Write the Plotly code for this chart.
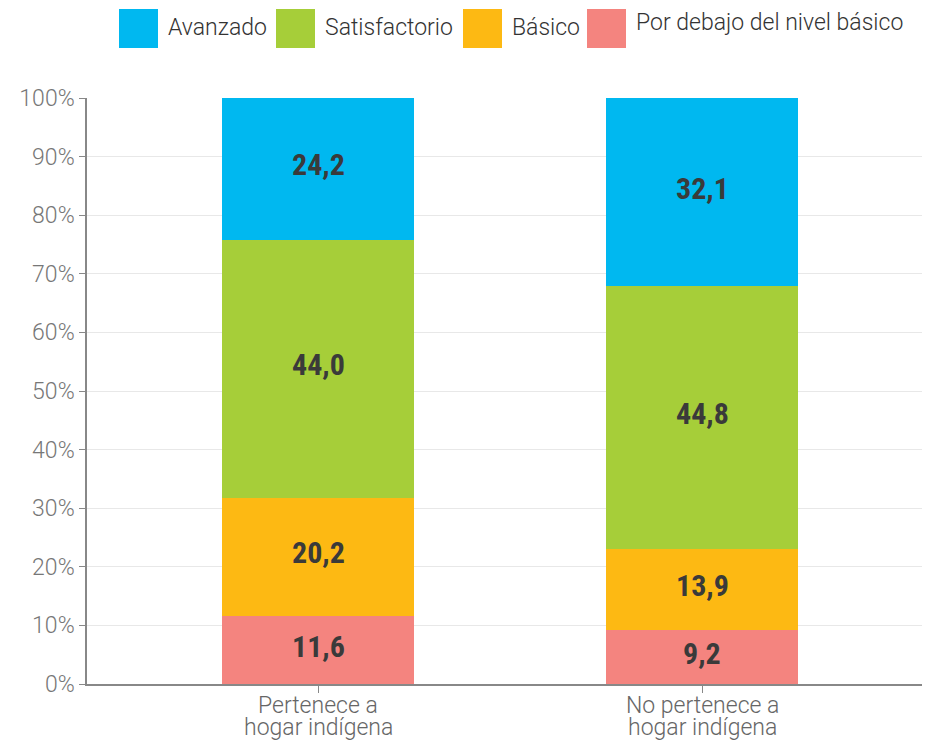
import plotly.graph_objects as go

cat_line1 = ["Pertenece a", "No pertenece a"]
cat_line2 = ["hogar indígena", "hogar indígena"]
categories = [a + " " + b for a, b in zip(cat_line1, cat_line2)]
series_names = ["Por debajo del nivel básico", "Básico", "Satisfactorio", "Avanzado"]
por_debajo = [11.6, 9.2]
basico = [20.2, 13.9]
satisfactorio = [44.0, 44.8]
avanzado = [24.2, 32.1]
series_values = [por_debajo, basico, satisfactorio, avanzado]
colors = ["#F4847F", "#FDB913", "#A6CE39", "#00B8F0"]
y_ticks = [0, 10, 20, 30, 40, 50, 60, 70, 80, 90, 100]
y_tick_labels = [f"{t}%" for t in y_ticks]

# layout geometry: the page adds an 8px body margin, so the figure is sized to fit the window
OFF = 8
W, H = 930 - OFF, 740 - OFF
L, T = 87 - OFF, 98 - OFF
R = 0
B = H - (684 - OFF)
PW, PH = W - L - R, H - T - B


def px_x(px):
    return (px - OFF - L) / PW


def px_y(py):
    return (H - B - (py - OFF)) / PH


label_font = dict(family="Roboto Condensed, Liberation Sans Narrow, DejaVu Sans Condensed",
                  size=30, color="#3a3a3a", weight="bold")

fig = go.Figure()
annotations = []
base = [0.0 for _ in categories]
for name, vals, col in zip(series_names, series_values, colors):
    fig.add_trace(go.Bar(
        name=name, x=categories, y=vals,
        marker=dict(color=col, line=dict(width=0)),
        width=0.5, showlegend=False, hoverinfo="x+y+name",
    ))
    for i, (cat, v) in enumerate(zip(categories, vals)):
        annotations.append(dict(text=f"{v:.1f}".replace(".", ","), x=cat, y=base[i] + v / 2,
                                xref="x", yref="y", showarrow=False, yshift=4,
                                xanchor="center", yanchor="middle", font=label_font))
        base[i] += v

# legend built from shapes + text (order: Avanzado ... Por debajo)
legend_order = [3, 2, 1, 0]
legend_swatch_x = [119, 276, 463, 587]
legend_text_y = [27, 27, 27, 23]
shapes = []
for idx, sx, ty in zip(legend_order, legend_swatch_x, legend_text_y):
    shapes.append(dict(type="rect", xref="paper", yref="paper",
                       x0=px_x(sx), x1=px_x(sx + 39), y0=px_y(48), y1=px_y(9),
                       fillcolor=colors[idx], line=dict(width=0)))
    annotations.append(dict(text=series_names[idx], xref="paper", yref="paper",
                            x=px_x(sx + 47), y=px_y(ty), xanchor="left", yanchor="middle",
                            showarrow=False,
                            font=dict(family="Roboto", size=23, color="#333333", weight=300)))

# two-line category labels with tight spacing
for cat, l1, l2 in zip(categories, cat_line1, cat_line2):
    for txt, py in ((l1, 706), (l2, 727)):
        annotations.append(dict(text=txt, xref="x", yref="paper", x=cat, y=px_y(py),
                                xanchor="center", yanchor="middle", showarrow=False,
                                font=dict(family="Roboto", size=23, color="#666666", weight=300)))

fig.update_layout(
    width=W, height=H,
    barmode="stack",
    plot_bgcolor="white", paper_bgcolor="white",
    margin=dict(l=L, r=R, t=T, b=B, autoexpand=False),
    font=dict(family="Roboto", size=23, color="#666666", weight=300),
    showlegend=False,
    shapes=shapes,
    annotations=annotations,
    xaxis=dict(range=[-231 / 384, -231 / 384 + PW / 384], showline=True, linecolor="#888888",
               linewidth=1.5, ticks="outside", ticklen=7, tickcolor="#888888", showgrid=False,
               showticklabels=False, automargin=False),
    yaxis=dict(range=[0, 100], tickmode="array", tickvals=y_ticks, ticktext=y_tick_labels,
               showline=True, linecolor="#888888", linewidth=1.5, ticks="outside", ticklen=6,
               tickcolor="#888888", gridcolor="#e8e8e8", gridwidth=1, automargin=False,
               tickfont=dict(family="Roboto", size=23, color="#777777", weight=300),
               zeroline=False),
)

fig.write_html("out.html")
